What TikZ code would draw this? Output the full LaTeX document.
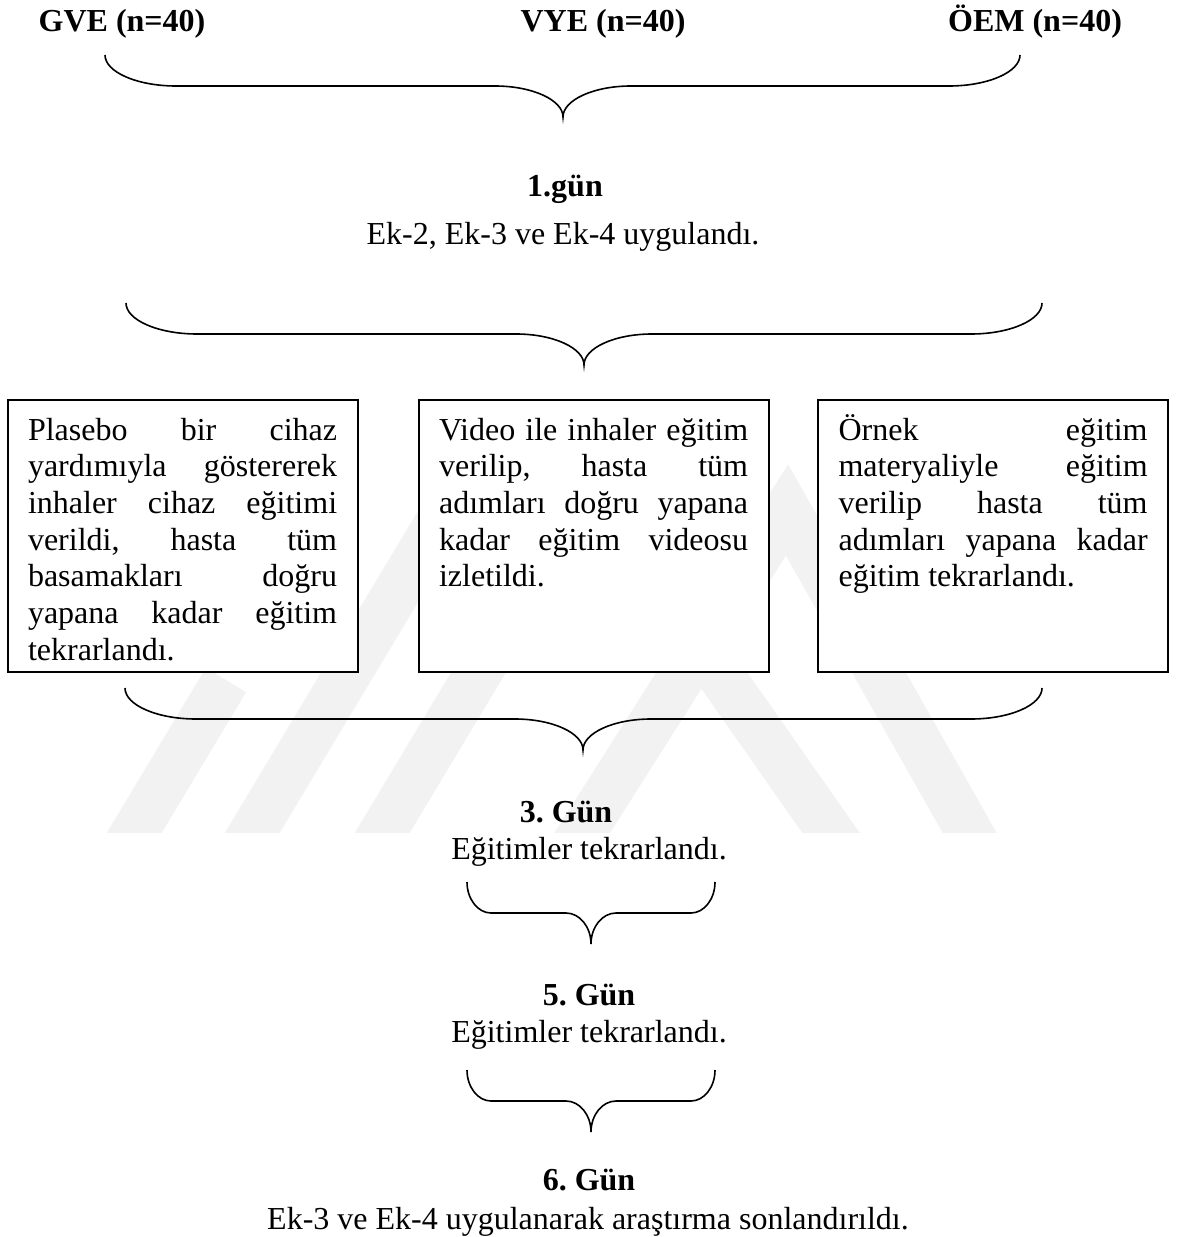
\documentclass[tikz,border=0pt]{standalone}
\usepackage{fontspec}
\setmainfont{Liberation Serif}
\frenchspacing

% one justified line of a text box
\newcommand\jl[1]{\makebox[\linewidth][s]{#1}\par}

% horizontal curly brace opening upwards, tip pointing down
% #1 left x, #2 right x, #3 tip x, #4 top y, #5 end-curve span, #6 middle-curve span
\newcommand\hbrace[6]{%
  \draw[bracestyle] (#1,#4) .. controls (#1,{#4+17}) and ({#1+0.45*#5},{#4+31}) .. ({#1+#5},{#4+31})
    -- ({#3-#6},{#4+31}) .. controls ({#3-0.45*#6},{#4+31}) and (#3,{#4+45}) .. (#3,{#4+62})
    .. controls (#3,{#4+45}) and ({#3+0.45*#6},{#4+31}) .. ({#3+#6},{#4+31})
    -- ({#2-#5},{#4+31}) .. controls ({#2-0.45*#5},{#4+31}) and (#2,{#4+17}) .. (#2,#4);}

\tikzset{
  bracestyle/.style={line width=0.6pt, black},
  boxstyle/.style={draw, line width=0.75pt, fill=white, inner sep=0pt,
    anchor=north west, minimum width=131.25pt, minimum height=102.2pt},
  head/.style={font=\fontsize{12pt}{13.76pt}\selectfont\bfseries, anchor=base, inner sep=0pt},
  plain/.style={font=\fontsize{12pt}{13.76pt}\selectfont, anchor=base, inner sep=0pt},
  boxtext/.style={anchor=base west, inner sep=0pt},
  wm/.style={line width=17.6pt, black!5, line join=miter}
}

\begin{document}
\begin{tikzpicture}[x=0.375pt, y=-0.375pt]
  \fill[white] (0,0) rectangle (1177,1237);
  \useasboundingbox (0,0) rectangle (1177,1237);

  % faint background emblem
  \begin{scope}
    \clip (0,380) rectangle (1177,832);
    \draw[wm] (118,860) -- (226,680);
    \draw[wm] (236,860) -- (443,515);
    \draw[wm] (366,860) -- (600,470);
    \draw[wm] (565,860) -- (787,510) -- (985,860);
    \draw[wm] (850,860) -- (640,560);
  \end{scope}

  % groups
  \node[head] (gve) at (122,32) {GVE (n=40)};
  \node[head] (vye) at (603,32) {VYE (n=40)};
  \node[head] (oem) at (1035,32) {ÖEM (n=40)};
  \hbrace{105}{1020}{563}{55}{71}{68}

  % day 1
  \node[head] (g1) at (565,197) {1.gün};
  \node[plain] (g1t) at (563,245) {Ek-2, Ek-3 ve Ek-4 uygulandı.};
  \hbrace{126}{1042}{584}{303}{71}{68}

  % training boxes
  \node[boxstyle] (b1) at (7,398.5) {};
  \node[boxstyle] (b2) at (418,398.5) {};
  \node[boxstyle] (b3) at (817,398.5) {};

  \node[boxtext] (t1) at (27.5,440) {\parbox[t]{115.9pt}{\fontsize{12pt}{13.76pt}\selectfont
    \jl{Plasebo bir cihaz}
    \jl{yardımıyla göstererek}
    \jl{inhaler cihaz eğitimi}
    \jl{verildi, hasta tüm}
    \jl{basamakları doğru}
    \jl{yapana kadar eğitim}
    tekrarlandı.}};
  \node[boxtext] (t2) at (438.5,440) {\parbox[t]{115.9pt}{\fontsize{12pt}{13.76pt}\selectfont
    \jl{Video ile inhaler eğitim}
    \jl{verilip, hasta tüm}
    \jl{adımları doğru yapana}
    \jl{kadar eğitim videosu}
    izletildi.}};
  \node[boxtext] (t3) at (838,440) {\parbox[t]{115.9pt}{\fontsize{12pt}{13.76pt}\selectfont
    \jl{Örnek eğitim}
    \jl{materyaliyle eğitim}
    \jl{verilip hasta tüm}
    \jl{adımları yapana kadar}
    eğitim tekrarlandı.}};
  \hbrace{125}{1042}{583}{688}{71}{68}

  % day 3
  \node[head] (g3) at (566,822) {3. Gün};
  \node[plain] (g3t) at (589,859) {Eğitimler tekrarlandı.};
  \hbrace{467}{715}{591}{882}{24}{25}

  % day 5
  \node[head] (g5) at (589,1005) {5. Gün};
  \node[plain] (g5t) at (589,1042) {Eğitimler tekrarlandı.};
  \hbrace{467}{715}{591}{1070}{24}{25}

  % day 6
  \node[head] (g6) at (589,1190) {6. Gün};
  \node[plain] (g6t) at (588,1229) {Ek-3 ve Ek-4 uygulanarak araştırma sonlandırıldı.};
\end{tikzpicture}
\end{document}
